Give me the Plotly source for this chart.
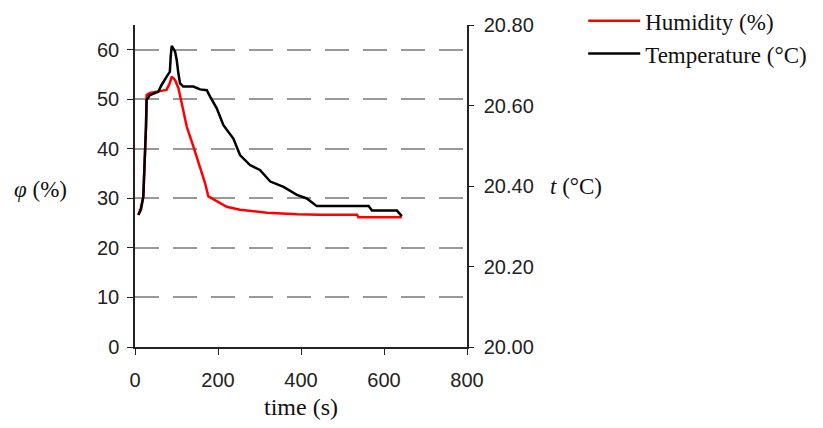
import plotly.graph_objects as go

# Humidity readings (left axis, %)
hum_time = [8, 14, 20, 22, 24, 26.5, 28, 36, 56, 76, 84, 88.5, 96.5, 104.5, 112.6,
            124.7, 140.6, 156.8, 168.8, 176.8, 197, 221, 253, 318, 390, 446, 535, 538, 643]
hum_vals = [26.7, 28.0, 30.4, 34.4, 37.4, 44.5, 50.9, 51.3, 51.6, 51.9, 53.3, 54.6, 53.9,
            52.3, 49.2, 44.5, 40.5, 36.4, 33.1, 30.4, 29.4, 28.3, 27.7, 27.1, 26.8, 26.7,
            26.7, 26.2, 26.2]

# Temperature readings (right axis, °C)
temp_time = [8, 14, 20, 22, 24, 26.5, 28, 36, 56, 64, 76, 84, 86, 88.5, 96.5, 100.5, 104.5,
             108.5, 116.5, 140.6, 156.8, 173, 181, 197, 213, 237, 253, 277, 301, 326, 358,
             390, 414, 438, 563, 571, 631, 643]
temp_vals = [20.328, 20.340, 20.373, 20.423, 20.461, 20.547, 20.614, 20.626, 20.634, 20.651,
             20.671, 20.684, 20.721, 20.748, 20.734, 20.713, 20.680, 20.655, 20.647, 20.647,
             20.640, 20.638, 20.622, 20.593, 20.551, 20.518, 20.477, 20.452, 20.440, 20.411,
             20.398, 20.378, 20.369, 20.350, 20.350, 20.339, 20.339, 20.325]

x_ticks = [0, 200, 400, 600, 800]
left_ticks = [0, 10, 20, 30, 40, 50, 60]
right_ticks = [20.0, 20.2, 20.4, 20.6, 20.8]

SANS = "Liberation Sans, Arial, sans-serif"
SERIF = "Liberation Serif, Times New Roman, serif"
AXIS = "#222222"

fig = go.Figure()
fig.add_trace(go.Scatter(x=hum_time, y=hum_vals, mode="lines", name="Humidity (%)",
                         line=dict(color="#ff0000", width=2.5), yaxis="y"))
fig.add_trace(go.Scatter(x=temp_time, y=temp_vals, mode="lines", name="Temperature (°C)",
                         line=dict(color="#000000", width=2.5), yaxis="y2"))

fig.update_layout(
    width=823, height=428,
    margin=dict(l=135, r=356, t=25, b=81, autoexpand=False),
    plot_bgcolor="white", paper_bgcolor="white",
    font=dict(family=SANS, size=20, color="#222222"),
    xaxis=dict(
        range=[0, 800], tickvals=x_ticks, ticks="outside", ticklen=6, tickcolor=AXIS,
        ticklabelstandoff=8,
        showline=True, linecolor=AXIS, linewidth=1.5, showgrid=False, zeroline=False,
        title=dict(text="time (s)", font=dict(family=SERIF, size=24, color="#111111"),
                   standoff=8),
    ),
    yaxis=dict(
        range=[0, 65], tickvals=left_ticks, ticks="outside", ticklen=6, tickcolor=AXIS,
        ticklabelstandoff=4,
        showline=True, linecolor=AXIS, linewidth=1.5, zeroline=False,
        showgrid=True, gridcolor="#999999", gridwidth=1.5, griddash="24px,14px",
    ),
    yaxis2=dict(
        range=[20.0, 20.8], tickvals=right_ticks, tickformat=".2f", overlaying="y",
        side="right", ticks="outside", ticklen=5, tickcolor=AXIS, ticklabelstandoff=6,
        showline=True, linecolor=AXIS, linewidth=1.5, showgrid=False, zeroline=False,
    ),
    legend=dict(x=1.35, y=1.08, xanchor="left", yanchor="top",
                font=dict(family=SERIF, size=23, color="#111111"),
                bgcolor="rgba(0,0,0,0)", itemwidth=52),
    showlegend=True,
)

fig.add_annotation(x=-0.286, y=0.49, xref="paper", yref="paper", showarrow=False,
                   xanchor="center", yanchor="middle",
                   text="<i>φ</i> (%)", font=dict(family=SERIF, size=23, color="#111111"))
fig.add_annotation(x=1.328, y=0.50, xref="paper", yref="paper", showarrow=False,
                   xanchor="center", yanchor="middle",
                   text="<i>t</i> (°C)", font=dict(family=SERIF, size=23, color="#111111"))

fig.write_html("out.html")
